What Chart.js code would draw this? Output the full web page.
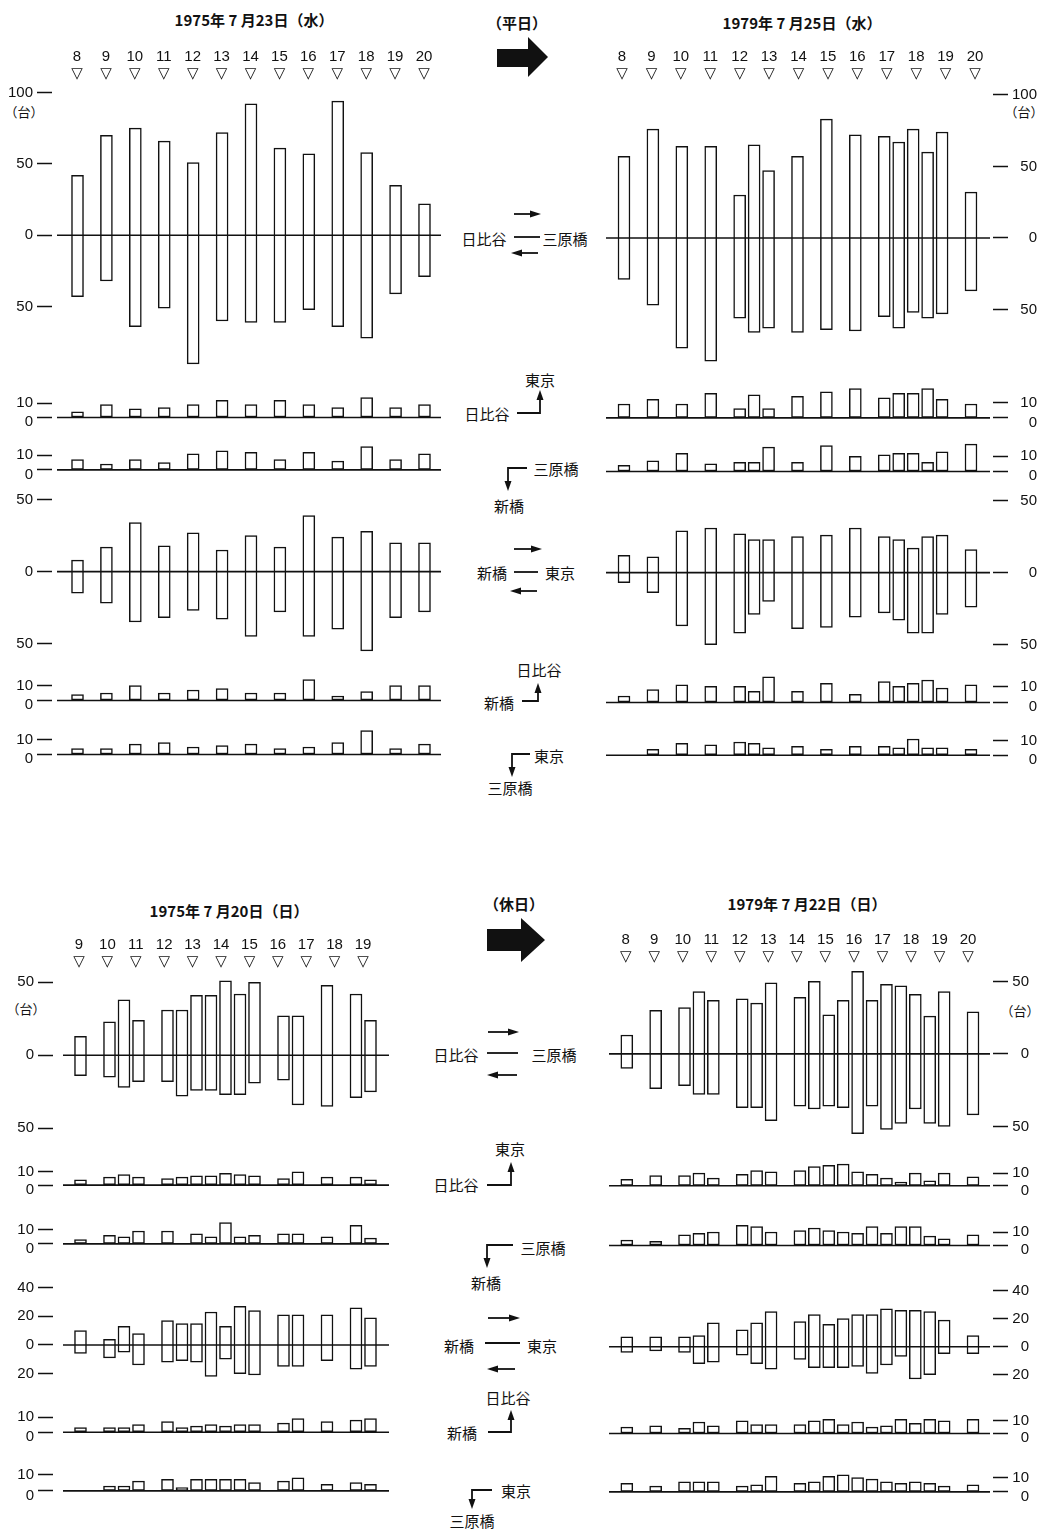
<!DOCTYPE html>
<html lang="ja">
<head>
<meta charset="utf-8">
<title>方向別交通量 1975 / 1979</title>
<script src="https://cdn.jsdelivr.net/npm/chart.js@4.4.1/dist/chart.umd.min.js"></script>
<style>
  body { margin: 0; background: #fff; }
  #page { position: relative; width: 1046px; height: 1530px; overflow: hidden; color: #111;
          font-family: "Noto Sans CJK JP", sans-serif; }
  #page canvas { position: absolute; }
  .lb { position: absolute; transform: translate(-50%, -50%); white-space: nowrap; line-height: 1; font-size: 15px; }
  .tt { font-size: 15px; font-weight: bold; }
  .un { font-size: 13px; }
  #deco { position: absolute; left: 0; top: 0; }
</style>
</head>
<body>
<div id="page">
  <div class="lb tt" style="left:254px;top:19px">1975年 7 月23日（水）</div>
  <div class="lb tt" style="left:517px;top:22px">（平日）</div>
  <div class="lb tt" style="left:802px;top:22px">1979年 7 月25日（水）</div>
  <div class="lb tt" style="left:229px;top:910px">1975年 7 月20日（日）</div>
  <div class="lb tt" style="left:514px;top:903px">（休日）</div>
  <div class="lb tt" style="left:807px;top:903px">1979年 7 月22日（日）</div>

  <div class="lb un" style="left:24px;top:111px">（台）</div>
  <div class="lb un" style="left:1024px;top:111px">（台）</div>
  <div class="lb un" style="left:26px;top:1008px">（台）</div>
  <div class="lb un" style="left:1020px;top:1010px">（台）</div>

  <!-- 平日 -->
  <div class="lb" style="left:484px;top:238px">日比谷</div>
  <div class="lb" style="left:565px;top:238px">三原橋</div>
  <div class="lb" style="left:540px;top:379px">東京</div>
  <div class="lb" style="left:487px;top:413px">日比谷</div>
  <div class="lb" style="left:556px;top:468px">三原橋</div>
  <div class="lb" style="left:509px;top:505px">新橋</div>
  <div class="lb" style="left:492px;top:572px">新橋</div>
  <div class="lb" style="left:560px;top:572px">東京</div>
  <div class="lb" style="left:539px;top:669px">日比谷</div>
  <div class="lb" style="left:499px;top:702px">新橋</div>
  <div class="lb" style="left:549px;top:755px">東京</div>
  <div class="lb" style="left:510px;top:787px">三原橋</div>

  <!-- 休日 -->
  <div class="lb" style="left:456px;top:1054px">日比谷</div>
  <div class="lb" style="left:554px;top:1054px">三原橋</div>
  <div class="lb" style="left:510px;top:1148px">東京</div>
  <div class="lb" style="left:456px;top:1184px">日比谷</div>
  <div class="lb" style="left:543px;top:1247px">三原橋</div>
  <div class="lb" style="left:486px;top:1282px">新橋</div>
  <div class="lb" style="left:459px;top:1345px">新橋</div>
  <div class="lb" style="left:542px;top:1345px">東京</div>
  <div class="lb" style="left:508px;top:1397px">日比谷</div>
  <div class="lb" style="left:462px;top:1432px">新橋</div>
  <div class="lb" style="left:516px;top:1490px">東京</div>
  <div class="lb" style="left:472px;top:1520px">三原橋</div>

  <svg id="deco" width="1046" height="1530">
    <g fill="#111" stroke="none">
      <polygon points="497,49 528,49 528,37 548,57 528,77 528,67 497,67"/>
      <polygon points="487,929 521,929 521,918 545,940 521,962 521,951 487,951"/>
    </g>
    <g stroke="#111" stroke-width="1.8" fill="none">
      <!-- 平日 -->
      <line x1="514" y1="214" x2="532" y2="214"/>
      <line x1="520" y1="253" x2="538" y2="253"/>
      <line x1="514" y1="237" x2="540" y2="237"/>
      <polyline points="517,413 540,413 540,398"/>
      <polyline points="527,468 508,468 508,482"/>
      <line x1="514" y1="549" x2="533" y2="549"/>
      <line x1="519" y1="591" x2="537" y2="591"/>
      <line x1="514" y1="572" x2="538" y2="572"/>
      <polyline points="522,701 538,701 538,692"/>
      <polyline points="530,754 512,754 512,768"/>
      <!-- 休日 -->
      <line x1="488" y1="1032" x2="510" y2="1032"/>
      <line x1="495" y1="1075" x2="517" y2="1075"/>
      <line x1="487" y1="1053" x2="518" y2="1053"/>
      <polyline points="487,1185 511,1185 511,1172"/>
      <polyline points="513,1245 487,1245 487,1259"/>
      <line x1="488" y1="1318" x2="511" y2="1318"/>
      <line x1="495" y1="1369" x2="515" y2="1369"/>
      <line x1="485" y1="1343" x2="520" y2="1343"/>
      <polyline points="488,1432 511,1432 511,1419"/>
      <polyline points="492,1490 472,1490 472,1500"/>
    </g>
    <g fill="#111" stroke="none">
      <polygon points="541,214 530,210.5 530,217.5"/>
      <polygon points="511,253 522,249.5 522,256.5"/>
      <polygon points="540,390 536.5,400 543.5,400"/>
      <polygon points="508,491 504.5,481 511.5,481"/>
      <polygon points="542,549 531,545.5 531,552.5"/>
      <polygon points="510,591 521,587.5 521,594.5"/>
      <polygon points="538,683 534.5,693 541.5,693"/>
      <polygon points="512,777 508.5,767 515.5,767"/>
      <polygon points="519,1032 508,1028.5 508,1035.5"/>
      <polygon points="487,1075 498,1071.5 498,1078.5"/>
      <polygon points="511,1162 507.5,1172 514.5,1172"/>
      <polygon points="487,1268 483.5,1258 490.5,1258"/>
      <polygon points="520,1318 509,1314.5 509,1321.5"/>
      <polygon points="487,1369 498,1365.5 498,1372.5"/>
      <polygon points="511,1410 507.5,1420 514.5,1420"/>
      <polygon points="472,1509 468.5,1499 475.5,1499"/>
    </g>
  </svg>
</div>

<script>
// ---- 時刻 (measurement times, hours) ----
const hoursWd75 = [8, 9, 10, 11, 12, 13, 14, 15, 16, 17, 18, 19, 20];
const hoursWd79 = [8, 9, 10, 11, 12, 12.5, 13, 14, 15, 16, 17, 17.5, 18, 18.5, 19, 20];
const hoursHd75 = [9, 10, 10.5, 11, 12, 12.5, 13, 13.5, 14, 14.5, 15, 16, 16.5, 17.5, 18.5, 19];
const hoursHd79 = [8, 9, 10, 10.5, 11, 12, 12.5, 13, 14, 14.5, 15, 15.5, 16, 16.5, 17, 17.5, 18, 18.5, 19, 20];

// hour labels on top of each panel
const labelHours8to20 = [8, 9, 10, 11, 12, 13, 14, 15, 16, 17, 18, 19, 20];
const labelHours9to19 = [9, 10, 11, 12, 13, 14, 15, 16, 17, 18, 19];

// y tick values
const ticksBig100 = [100, 50, 0, -50];
const ticksBig50 = [50, 0, -50];
const ticksMid50 = [50, 0, -50];
const ticksMid40 = [40, 20, 0, -20];
const ticksSmall = [10, 0];

// ---- 1975年7月23日(水) ----
const wd75HibMihUp      = [42, 70, 75, 66, 51, 72, 92, 61, 57, 94, 58, 35, 22];
const wd75HibMihDown    = [43, 32, 64, 51, 90, 60, 61, 61, 52, 64, 72, 41, 29];
const wd75HibTokyo      = [4, 9, 6, 7, 9, 12, 9, 12, 9, 7, 14, 7, 9];
const wd75MihShin       = [7, 4, 7, 5, 11, 13, 12, 7, 12, 6, 16, 7, 11];
const wd75ShinTokyoUp   = [8, 17, 34, 18, 27, 15, 25, 17, 39, 24, 28, 20, 20];
const wd75ShinTokyoDown = [15, 22, 35, 32, 27, 33, 45, 28, 45, 40, 55, 32, 28];
const wd75ShinHib       = [4, 5, 10, 5, 7, 8, 5, 5, 14, 3, 6, 10, 10];
const wd75MihTokyo      = [4, 4, 7, 8, 5, 6, 7, 4, 5, 8, 16, 4, 7];

// ---- 1979年7月25日(水) ----
const wd79HibMihUp      = [57, 76, 64, 64, 30, 65, 47, 57, 83, 72, 71, 67, 76, 60, 74, 32];
const wd79HibMihDown    = [29, 47, 77, 86, 56, 66, 63, 66, 64, 65, 55, 63, 52, 56, 53, 37];
const wd79HibTokyo      = [9, 12, 9, 16, 6, 15, 6, 14, 17, 19, 13, 16, 16, 19, 12, 9];
const wd79MihShin       = [4, 7, 12, 5, 6, 6, 16, 6, 17, 10, 11, 12, 12, 6, 13, 18];
const wd79ShinTokyoUp   = [12, 11, 29, 31, 27, 23, 23, 25, 26, 31, 25, 23, 17, 25, 26, 16];
const wd79ShinTokyoDown = [7, 14, 37, 50, 42, 29, 20, 39, 38, 31, 28, 33, 42, 42, 29, 24];
const wd79ShinHib       = [4, 8, 11, 10, 10, 7, 16, 7, 12, 5, 13, 10, 12, 14, 9, 11];
const wd79MihTokyo      = [null, 4, 8, 7, 9, 8, 5, 6, 4, 6, 6, 5, 11, 5, 5, 4];

// ---- 1975年7月20日(日) ----
const hd75HibMihUp      = [13, 23, 38, 24, 31, 31, 41, 41, 51, 42, 50, 27, 27, 48, 42, 24];
const hd75HibMihDown    = [14, 15, 22, 18, 18, 28, 24, 24, 27, 27, 19, 17, 34, 35, 29, 25];
const hd75HibTokyo      = [4, 6, 8, 6, 5, 6, 7, 7, 9, 8, 7, 5, 10, 6, 6, 4];
const hd75MihShin       = [3, 6, 5, 9, 9, null, 7, 5, 15, 5, 6, 7, 7, 5, 13, 4];
const hd75ShinTokyoUp   = [10, 4, 13, 8, 17, 15, 15, 23, 13, 27, 24, 21, 21, 21, 26, 19];
const hd75ShinTokyoDown = [6, 9, 5, 14, 12, 11, 12, 22, 10, 20, 21, 15, 15, 11, 17, 15];
const hd75ShinHib       = [3, 3, 3, 5, 7, 3, 4, 5, 4, 5, 5, 6, 9, 7, 8, 9];
const hd75MihTokyo      = [null, 3, 3, 6, 7, 2, 7, 7, 7, 7, 5, 6, 8, 4, 5, 4];

// ---- 1979年7月22日(日) ----
const hd79HibMihUp      = [13, 30, 32, 43, 37, 38, 35, 49, 39, 50, 27, 37, 57, 37, 48, 47, 41, 26, 43, 29];
const hd79HibMihDown    = [10, 24, 22, 28, 28, 37, 37, 46, 36, 38, 36, 37, 55, 36, 52, 48, 38, 48, 50, 42];
const hd79HibTokyo      = [5, 8, 8, 10, 6, 9, 12, 11, 12, 15, 16, 17, 11, 9, 6, 3, 10, 4, 10, 7];
const hd79MihShin       = [4, 3, 8, 9, 10, 15, 14, 10, 11, 13, 11, 10, 9, 14, 9, 14, 14, 7, 5, 8];
const hd79ShinTokyoUp   = [7, 7, 7, 8, 17, 12, 17, 25, 18, 23, 16, 20, 23, 23, 27, 26, 26, 25, 19, 8];
const hd79ShinTokyoDown = [4, 3, 4, 12, 11, 6, 12, 16, 9, 15, 15, 15, 14, 19, 13, 7, 23, 20, 5, 5];
const hd79ShinHib       = [5, 6, 4, 9, 6, 10, 7, 7, 7, 10, 11, 7, 9, 5, 6, 11, 8, 11, 10, 11];
const hd79MihTokyo      = [6, 4, 7, 7, 7, 4, 5, 11, 6, 7, 11, 12, 10, 9, 7, 6, 7, 6, 4, 5];

// ---- layout of the four panels ----
const panels = {
  wd75: { side: 'left',  chartL: 52,  chartR: 441, xMin: 7.118, xMax: 20.571, hMin: 7.135, hMax: 20.588, gap: 5,  labelPad: 3, hours: hoursWd75, labels: labelHours8to20 },
  wd79: { side: 'right', chartL: 606, chartR: 993, edge: 1037, xMin: 7.378, xMax: 20.761, hMin: 7.456, hMax: 20.612, gap: 3, labelPad: 5, hours: hoursWd79, labels: labelHours8to20 },
  hd75: { side: 'left',  chartL: 53,  chartR: 389, xMin: 8.052, xMax: 19.638, hMin: 8.085, hMax: 19.915, gap: 10, labelPad: 0.5, hours: hoursHd75, labels: labelHours9to19 },
  hd79: { side: 'right', chartL: 609, chartR: 993, edge: 1029, xMin: 7.383, xMax: 20.693, hMin: 7.415, hMax: 20.876, gap: 3, labelPad: 1, hours: hoursHd79, labels: labelHours8to20 }
};

const rows = [
  { p: 'wd75', big: true, zero: 235.5, k: 1.43,  min: -95, max: 105, ticks: ticksBig100, up: wd75HibMihUp, down: wd75HibMihDown },
  { p: 'wd75', zero: 417.3, k: 1.53,  min: -2,  max: 16, ticks: ticksSmall, up: wd75HibTokyo },
  { p: 'wd75', zero: 469.7, k: 1.53,  min: -2,  max: 18, ticks: ticksSmall, up: wd75MihShin },
  { p: 'wd75', zero: 571.3, k: 1.457, min: -60, max: 56, ticks: ticksMid50, up: wd75ShinTokyoUp, down: wd75ShinTokyoDown },
  { p: 'wd75', zero: 700.3, k: 1.567, min: -2,  max: 16, ticks: ticksSmall, up: wd75ShinHib },
  { p: 'wd75', zero: 754.3, k: 1.6,   min: -2,  max: 18, ticks: ticksSmall, up: wd75MihTokyo },

  { p: 'wd79', big: true, zero: 238.3, k: 1.435, min: -95, max: 105, ticks: ticksBig100, up: wd79HibMihUp, down: wd79HibMihDown },
  { p: 'wd79', zero: 417.7, k: 1.6,   min: -2,  max: 21, ticks: ticksSmall, up: wd79HibTokyo },
  { p: 'wd79', zero: 471.3, k: 1.6,   min: -2,  max: 21, ticks: ticksSmall, up: wd79MihShin },
  { p: 'wd79', zero: 572.3, k: 1.45,  min: -60, max: 56, ticks: ticksMid50, up: wd79ShinTokyoUp, down: wd79ShinTokyoDown },
  { p: 'wd79', zero: 702.3, k: 1.667, min: -2,  max: 18, ticks: ticksSmall, up: wd79ShinHib },
  { p: 'wd79', zero: 755,   k: 1.6,   min: -2,  max: 14, ticks: ticksSmall, up: wd79MihTokyo },

  { p: 'hd75', big: true, zero: 1055.7, k: 1.467, min: -58, max: 58, ticks: ticksBig50, up: hd75HibMihUp, down: hd75HibMihDown },
  { p: 'hd75', zero: 1185,   k: 1.4,   min: -2,  max: 14, ticks: ticksSmall, up: hd75HibTokyo },
  { p: 'hd75', zero: 1243.7, k: 1.533, min: -2,  max: 17, ticks: ticksSmall, up: hd75MihShin },
  { p: 'hd75', zero: 1344.7, k: 1.45,  min: -28, max: 44, ticks: ticksMid40, up: hd75ShinTokyoUp, down: hd75ShinTokyoDown },
  { p: 'hd75', zero: 1432,   k: 1.6,   min: -2,  max: 13, ticks: ticksSmall, up: hd75ShinHib },
  { p: 'hd75', zero: 1490.7, k: 1.733, min: -2,  max: 13, ticks: ticksSmall, up: hd75MihTokyo },

  { p: 'hd79', big: true, zero: 1054.3, k: 1.457, min: -58, max: 60, ticks: ticksBig50, up: hd79HibMihUp, down: hd79HibMihDown },
  { p: 'hd79', zero: 1185.7, k: 1.333, min: -2,  max: 19, ticks: ticksSmall, up: hd79HibTokyo },
  { p: 'hd79', zero: 1245.3, k: 1.433, min: -2,  max: 17, ticks: ticksSmall, up: hd79MihShin },
  { p: 'hd79', zero: 1346.7, k: 1.433, min: -28, max: 44, ticks: ticksMid40, up: hd79ShinTokyoUp, down: hd79ShinTokyoDown },
  { p: 'hd79', zero: 1433.3, k: 1.4,   min: -2,  max: 14, ticks: ticksSmall, up: hd79ShinHib },
  { p: 'hd79', zero: 1491.7, k: 1.5,   min: -2,  max: 15, ticks: ticksSmall, up: hd79MihTokyo }
];

Chart.defaults.font.family = '"Liberation Sans", "DejaVu Sans", sans-serif';
Chart.defaults.color = '#111';

// the 0 line runs through the bars
const zeroLine = {
  id: 'zeroLine',
  afterDatasetsDraw(chart, args, opt) {
    const a = chart.chartArea, c = chart.ctx;
    const y = chart.scales.y.getPixelForValue(0);
    c.save();
    c.strokeStyle = '#111';
    c.lineWidth = 1.6;
    c.beginPath();
    c.moveTo(a.left + opt.gapL, y);
    c.lineTo(a.right - opt.gapR, y);
    c.stroke();
    c.restore();
  }
};

const page = document.getElementById('page');
const PAD = 12, TOP_H = 50;

function makeChart(r) {
  const p = panels[r.p];
  const small = !r.big && !r.down;
  const chartTop = r.zero - r.max * r.k;
  const chartH = (r.max - r.min) * r.k;
  const top = Math.round(chartTop - (r.big ? TOP_H : PAD));
  const offT = chartTop - top;
  const height = Math.ceil(offT + chartH + PAD);
  const left = p.side === 'left' ? 0 : p.chartL;
  const width = p.side === 'left' ? p.chartR : p.edge - p.chartL;
  const axisW = p.side === 'left' ? p.chartL : p.edge - p.chartR;

  const cv = document.createElement('canvas');
  cv.width = width;
  cv.height = height;
  cv.style.left = left + 'px';
  cv.style.top = top + 'px';
  page.appendChild(cv);

  const data = [];
  p.hours.forEach((h, i) => {
    if (r.up[i] == null) return;
    data.push({ x: h, y: r.down ? [-r.down[i], r.up[i]] : r.up[i] });
  });

  const scales = {
    x: { type: 'linear', display: false, min: p.xMin, max: p.xMax, offset: false },
    y: {
      position: p.side, min: r.min, max: r.max,
      afterBuildTicks: s => { s.ticks = r.ticks.map(v => ({ value: v })); },
      afterFit: s => { s.width = axisW; },
      grid: { drawOnChartArea: false, tickLength: 15, tickWidth: 1.5, tickColor: '#111' },
      border: { display: false },
      ticks: {
        padding: 4, autoSkip: false,
        crossAlign: p.side === 'left' ? 'near' : 'far',
        font: { size: 15, lineHeight: small ? 0.64 : 1.2 },
        callback: v => (small && v === 0) ? ['', '0'] : String(Math.abs(v))
      }
    }
  };
  if (r.big) {
    scales.xh = {
      type: 'linear', position: 'top', min: p.hMin, max: p.hMax, offset: false,
      afterBuildTicks: s => { s.ticks = p.labels.map(v => ({ value: v })); },
      afterFit: s => { s.height = offT; },
      grid: { display: false, drawTicks: false },
      border: { display: false },
      ticks: {
        padding: p.labelPad, autoSkip: false, maxRotation: 0,
        font: { size: 15, lineHeight: 1.14 },
        callback: v => [String(v), '▽']
      }
    };
  }

  new Chart(cv, {
    type: 'bar',
    data: {
      datasets: [{
        data: data,
        xAxisID: 'x',
        yAxisID: 'y',
        backgroundColor: '#fff',
        borderColor: '#111',
        borderWidth: 1.5,
        borderSkipped: false,
        barThickness: 12
      }]
    },
    options: {
      responsive: false,
      animation: false,
      events: [],
      layout: { padding: { top: r.big ? 0 : offT, bottom: height - offT - chartH, left: 0, right: 0 } },
      scales: scales,
      plugins: {
        legend: { display: false },
        tooltip: { enabled: false },
        zeroLine: { gapL: p.side === 'left' ? p.gap : 0, gapR: p.side === 'right' ? p.gap : 0 }
      }
    },
    plugins: [zeroLine]
  });
}

rows.forEach(makeChart);
</script>
</body>
</html>
